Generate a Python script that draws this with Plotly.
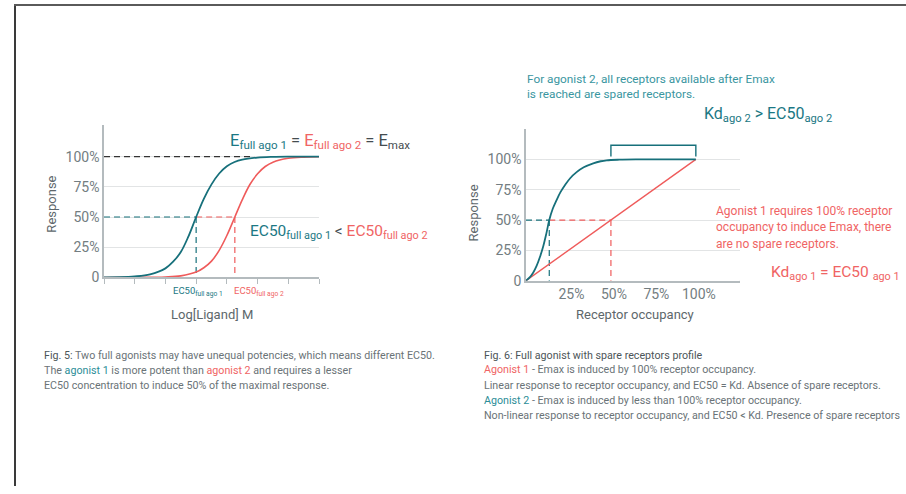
import plotly.graph_objects as go

# ---------------- data ----------------
# Fig. 5: concentration-response (x = log[ligand], arbitrary units; y = % response)
log_ligand_ago1 = [0, 0.5, 1, 1.5, 2, 2.25, 2.5, 2.75, 3, 3.25, 3.5, 3.75, 4, 4.25, 4.5, 5, 5.5, 6, 7]
response_ago1 = [0.1, 0.2, 0.8, 2.5, 7.5, 13, 21, 34, 50, 65, 77, 86, 92, 95.5, 97.5, 99.2, 99.8, 100, 100]
log_ligand_ago2 = [0, 1, 2, 2.5, 3, 3.25, 3.5, 3.75, 4, 4.26, 4.5, 4.75, 5, 5.25, 5.5, 6, 6.5, 7]
response_ago2 = [0, 0.05, 0.4, 1.3, 4.4, 8, 13.5, 22.4, 34.7, 50, 64.2, 76.9, 85.8, 91.8, 95.4, 98.6, 99.6, 99.9]
ec50_ago1 = 3.0
ec50_ago2 = 4.26
emax_guide_end = 4.85
log_ticks = [0, 1, 2, 3, 4, 5, 6, 7]

# Fig. 6: response vs receptor occupancy (both in %)
occupancy_ago2 = [0, 2.3, 4.2, 6.3, 8.2, 10.2, 12, 13.7, 15.8, 18, 20.3, 22.9, 26, 29.8, 34, 39.6, 44, 47.5, 55, 65, 80, 100]
response_occ_ago2 = [0, 2.9, 6.5, 12.4, 19.5, 28.6, 39, 50, 59.5, 66.5, 73, 78.7, 84.5, 89.5, 93.5, 96.8, 98.5, 99.3, 99.8, 100, 100, 100]
occupancy_ago1 = [0, 100]
response_occ_ago1 = [0, 100]
ec50_occ_ago2 = 13.7
ec50_occ_ago1 = 50
spare_from, spare_to = 50, 100
bracket_low, bracket_high = 102.5, 111.7
occupancy_max = 126

response_ticks = [0, 25, 50, 75, 100]
response_labels = ["0", "25%", "50%", "75%", "100%"]
occupancy_ticks = [25, 50, 75, 100]
occupancy_labels = ["25%", "50%", "75%", "100%"]

# ---------------- style ----------------
W, H = 906, 494
FONT = "Roboto"
TEAL = "#17707b"
TEAL_TXT = "#1b7884"
TEAL_NOTE = "#3a969f"
TEAL_CAP = "#2b8d97"
RED = "#ef5b5b"
RED_TXT = "#f06464"
TICK_TXT = "#737d81"
TITLE_TXT = "#5d676b"
BODY_TXT = "#6a7377"
DARK_TXT = "#4c5558"
AXIS = "#b4bbbe"
GRID = "#e2e4e5"
DASH = "6px,4px"


def px_x(p):
    return p / W


def px_y(p):
    return (H - p) / H


fig = go.Figure()


def guide(xs, ys, color, xa, ya, width=1.2):
    fig.add_trace(go.Scatter(x=xs, y=ys, mode="lines", hoverinfo="skip",
                             line=dict(color=color, width=width, dash=DASH), xaxis=xa, yaxis=ya))


# ---- Fig. 5 traces ----
guide([0, emax_guide_end], [100, 100], "#333333", "x", "y")
guide([0, ec50_ago1], [50, 50], TEAL, "x", "y")
guide([ec50_ago1, ec50_ago2], [50, 50], RED, "x", "y")
guide([ec50_ago1, ec50_ago1], [50, 0], TEAL, "x", "y")
guide([ec50_ago2, ec50_ago2], [50, 0], RED, "x", "y")
fig.add_trace(go.Scatter(x=log_ligand_ago2, y=response_ago2, mode="lines", line_shape="spline",
                         line=dict(color=RED, width=1.6), xaxis="x", yaxis="y"))
fig.add_trace(go.Scatter(x=log_ligand_ago1, y=response_ago1, mode="lines", line_shape="spline",
                         line=dict(color=TEAL, width=1.8), xaxis="x", yaxis="y"))

# ---- Fig. 6 traces ----
guide([0, ec50_occ_ago2], [50, 50], TEAL, "x2", "y2")
guide([ec50_occ_ago2, ec50_occ_ago1], [50, 50], RED, "x2", "y2")
guide([ec50_occ_ago2, ec50_occ_ago2], [50, 0], TEAL, "x2", "y2")
guide([ec50_occ_ago1, ec50_occ_ago1], [50, 0], RED, "x2", "y2")
fig.add_trace(go.Scatter(x=occupancy_ago1, y=response_occ_ago1, mode="lines",
                         line=dict(color=RED, width=1.4), xaxis="x2", yaxis="y2"))
fig.add_trace(go.Scatter(x=occupancy_ago2, y=response_occ_ago2, mode="lines", line_shape="spline",
                         line=dict(color=TEAL, width=1.8), xaxis="x2", yaxis="y2"))
# bracket over the spare-receptor range
fig.add_trace(go.Scatter(x=[spare_from, spare_from, spare_to, spare_to],
                         y=[bracket_low, bracket_high, bracket_high, bracket_low], mode="lines",
                         line=dict(color=TEAL, width=1.4), xaxis="x2", yaxis="y2", cliponaxis=False))
# end cap on the occupancy axis
fig.add_trace(go.Scatter(x=[occupancy_max, occupancy_max], y=[0, -3.5], mode="lines",
                         line=dict(color=AXIS, width=1.2), xaxis="x2", yaxis="y2", cliponaxis=False))

axis_common = dict(showline=True, linecolor=AXIS, linewidth=1.5, zeroline=False, fixedrange=True,
                   tickfont=dict(family=FONT, size=14, color=TICK_TXT))

fig.update_layout(
    width=W, height=H, margin=dict(l=0, r=0, t=0, b=0),
    paper_bgcolor="white", plot_bgcolor="white", showlegend=False,
    font=dict(family=FONT, color=BODY_TXT),
    xaxis=dict(**axis_common, domain=[px_x(104), px_x(319)], range=[0, 7],
               tickvals=log_ticks, showticklabels=False, ticks="outside", ticklen=5,
               tickcolor=AXIS, tickwidth=1.2, showgrid=False, anchor="y"),
    yaxis=dict(**axis_common, domain=[px_y(282), px_y(127)], range=[0, 126.2],
               tickvals=response_ticks, ticktext=response_labels, ticks="",
               showgrid=True, gridcolor=GRID, gridwidth=1.2, anchor="x"),
    xaxis2=dict(**axis_common, domain=[px_x(526), px_x(740)], range=[0, occupancy_max],
                tickvals=occupancy_ticks, ticktext=occupancy_labels, ticks="",
                showgrid=False, anchor="y2", ticklabelshift=3),
    yaxis2=dict(**axis_common, domain=[px_y(285.3), px_y(131)], range=[0, 125.2],
                tickvals=response_ticks, ticktext=response_labels, ticks="",
                showgrid=True, gridcolor=GRID, gridwidth=1.2, anchor="x2"),
)


def note(text, x, y, size, color=BODY_TXT, xanchor="left", yanchor="middle", angle=0):
    fig.add_annotation(text=text, x=px_x(x), y=px_y(y), xref="paper", yref="paper",
                       xanchor=xanchor, yanchor=yanchor, showarrow=False, textangle=angle,
                       font=dict(family=FONT, size=size, color=color), align="left",
                       borderpad=0)


def span(t, c):
    return f"<span style='color:{c}'>{t}</span>"


# ---- Fig. 5 labels ----
note("Response", 52, 208, 13, TITLE_TXT, xanchor="center", angle=-90)
note("Log[Ligand] M", 212, 320, 13, TITLE_TXT, xanchor="center")
note(span("E<sub>full ago 1</sub>", TEAL_TXT) + " = " + span("E<sub>full ago 2</sub>", RED_TXT)
     + " = E<sub>max</sub>", 229, 144, 16.5, "#444c50")
note(span("EC50<sub>full ago 1</sub>", TEAL_TXT) + " < " + span("EC50<sub>full ago 2</sub>", RED_TXT),
     249, 236, 15.5, "#444c50")
note("EC50<sub>full ago 1</sub>", 198, 296, 9.5, TEAL_TXT, xanchor="center")
note("EC50<sub>full ago 2</sub>", 233, 296, 9.5, RED_TXT, xanchor="left")

# ---- Fig. 6 labels ----
note("Response", 473, 217, 13, TITLE_TXT, xanchor="center", angle=-90)
note("Receptor occupancy", 635, 320, 13, TITLE_TXT, xanchor="center")
note("For agonist 2, all receptors available after Emax", 526, 80, 11.8, TEAL_NOTE)
note("is reached are spared receptors.", 526, 96, 11.8, TEAL_NOTE)
note("Kd<sub>ago 2</sub> > EC50<sub>ago 2</sub>", 703, 116, 16, TEAL_TXT)
note("Agonist 1 requires 100% receptor", 715, 214, 12, RED_TXT)
note("occupancy to induce Emax, there", 715, 231, 12, RED_TXT)
note("are no spare receptors.", 715, 248, 12, RED_TXT)
note("Kd<sub>ago 1</sub> = EC50 <sub>ago 1</sub>", 770, 278, 15.5, RED_TXT)

# ---- captions ----
CAP = 10.7
note(span("Fig. 5:", DARK_TXT) + " Two full agonists may have unequal potencies, which means different EC50.",
     43, 361, CAP)
note("The " + span("agonist 1", TEAL_CAP) + " is more potent than " + span("agonist 2", RED_TXT)
     + " and requires a lesser", 43, 376.5, CAP)
note("EC50 concentration to induce 50% of the maximal response.", 43, 392, CAP)

note(span("Fig. 6: Full agonist with spare receptors profile", DARK_TXT), 483, 361, CAP)
note(span("Agonist 1", RED_TXT) + " - Emax is induced by 100% receptor occupancy.", 483, 376, CAP)
note("Linear response to receptor occupancy, and EC50 = Kd. Absence of spare receptors.", 483, 391.5, CAP)
note(span("Agonist 2", TEAL_CAP) + " - Emax is induced by less than 100% receptor occupancy.", 483, 407, CAP)
note("Non-linear response to receptor occupancy, and EC50 < Kd. Presence of spare receptors", 483, 422, CAP)

# ---- page frame ----
fig.add_shape(type="line", xref="paper", yref="paper", x0=px_x(15), x1=px_x(15), y0=0, y1=px_y(4),
              line=dict(color="#3a3a3a", width=2))
fig.add_shape(type="line", xref="paper", yref="paper", x0=px_x(14), x1=1, y0=px_y(5), y1=px_y(5),
              line=dict(color="#5a5a5a", width=2))

fig.write_html("out.html")
